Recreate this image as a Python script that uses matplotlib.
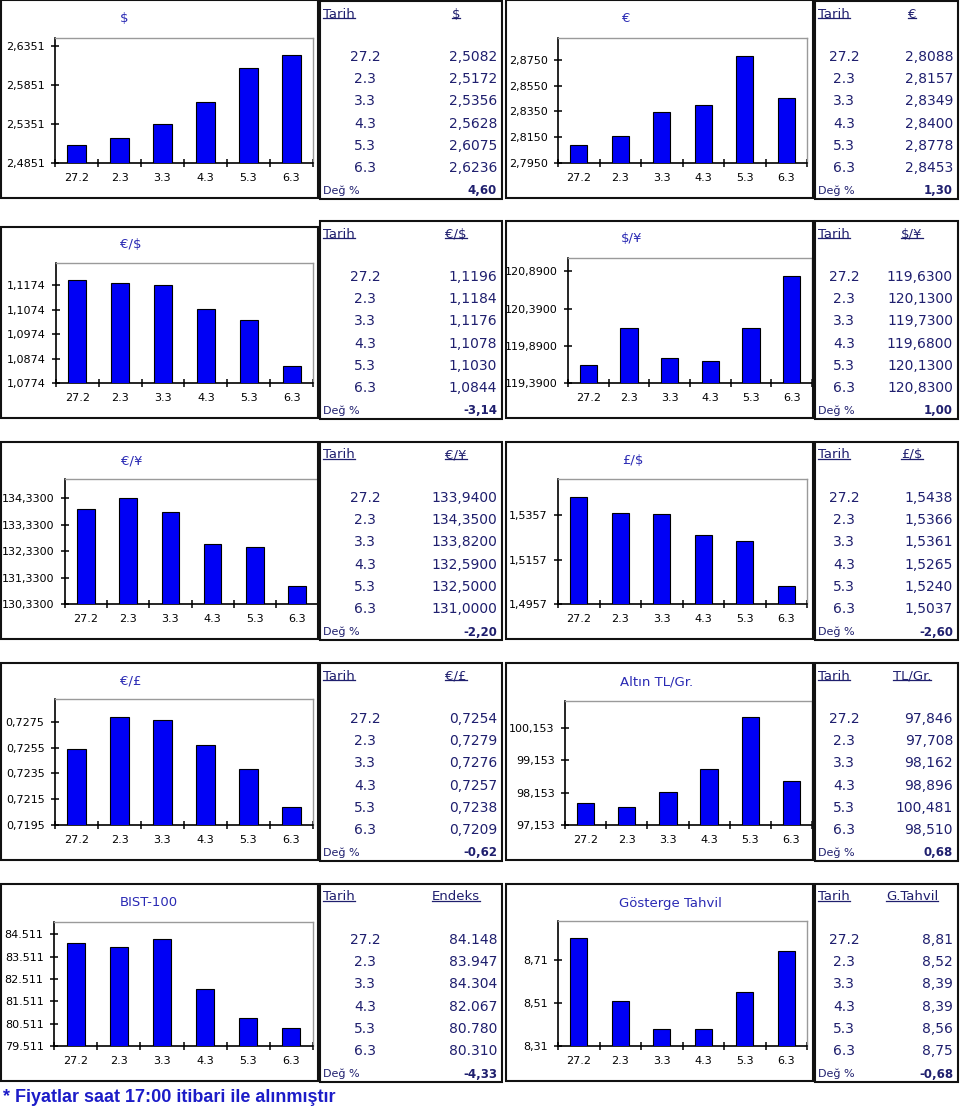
import matplotlib
matplotlib.use("Agg")
import matplotlib.pyplot as plt
from matplotlib.patches import Rectangle
from matplotlib.lines import Line2D

W, H = 960, 1112

# ---------------- data ----------------
dates = ["27.2", "2.3", "3.3", "4.3", "5.3", "6.3"]

usd = [2.5082, 2.5172, 2.5356, 2.5628, 2.6075, 2.6236]
eur = [2.8088, 2.8157, 2.8349, 2.8400, 2.8778, 2.8453]
eurusd = [1.1196, 1.1184, 1.1176, 1.1078, 1.1030, 1.0844]
usdjpy = [119.63, 120.13, 119.73, 119.68, 120.13, 120.83]
eurjpy = [133.94, 134.35, 133.82, 132.59, 132.50, 131.00]
gbpusd = [1.5438, 1.5366, 1.5361, 1.5265, 1.5240, 1.5037]
eurgbp = [0.7254, 0.7279, 0.7276, 0.7257, 0.7238, 0.7209]
gold = [97.846, 97.708, 98.162, 98.896, 100.481, 98.510]
bist = [84148, 83947, 84304, 82067, 80780, 80310]
bond = [8.81, 8.52, 8.39, 8.39, 8.56, 8.75]

usd_ticks = [2.4851, 2.5351, 2.5851, 2.6351]
eur_ticks = [2.7950, 2.8150, 2.8350, 2.8550, 2.8750]
eurusd_ticks = [1.0774, 1.0874, 1.0974, 1.1074, 1.1174]
usdjpy_ticks = [119.39, 119.89, 120.39, 120.89]
eurjpy_ticks = [130.33, 131.33, 132.33, 133.33, 134.33]
gbpusd_ticks = [1.4957, 1.5157, 1.5357]
eurgbp_ticks = [0.7195, 0.7215, 0.7235, 0.7255, 0.7275]
gold_ticks = [97.153, 98.153, 99.153, 100.153]
bist_ticks = [79511, 80511, 81511, 82511, 83511, 84511]
bond_ticks = [8.31, 8.51, 8.71]

y_max = [2.6454, 2.892, 1.1264, 121.07, 135.06, 1.5519, 0.72926, 100.98, 85068, 8.891]

changes = [4.60, 1.30, -3.14, 1.00, -2.20, -2.60, -0.62, 0.68, -4.33, -0.68]

titles = ["$", "€", "€/$", "$/¥", "€/¥", "£/$", "€/£", "Altın TL/Gr.", "BIST-100", "Gösterge Tahvil"]
headers = ["$", "€", "€/$", "$/¥", "€/¥", "£/$", "€/£", "TL/Gr.", "Endeks", "G.Tahvil"]
decimals = [4, 4, 4, 4, 4, 4, 4, 3, -1, 2]   # -1 -> thousands with dot

footer = "* Fiyatlar saat 17:00 itibari ile alınmıştır"

series = [usd, eur, eurusd, usdjpy, eurjpy, gbpusd, eurgbp, gold, bist, bond]
ticks = [usd_ticks, eur_ticks, eurusd_ticks, usdjpy_ticks, eurjpy_ticks,
         gbpusd_ticks, eurgbp_ticks, gold_ticks, bist_ticks, bond_ticks]


def fmt(v, d):
    if d < 0:
        return f"{v:,.0f}".replace(",", ".")
    return f"{v:.{d}f}".replace(".", ",")


# ---------------- layout (pixels) ----------------
row_tops = [0, 220, 441, 662, 883]
plot_x = [(55, 313), (558, 807), (56, 313), (568, 812), (65, 318),
          (558, 807), (55, 313), (565, 812), (54, 313), (558, 807)]
plot_top_off = [38, 38, 43, 38, 38, 38, 37, 39, 39, 38]
box_top_off = [0, 0, 7, 1, 1, 1, 1, 1, 1, 1]
title_xy = [(124, 19), (626, 19), (131, 24), (632, 19), (132, 20),
            (633, 20), (131, 19), (657, 20), (149, 20), (670, 20)]

NAVY = "#1f1f6e"
TBLUE = "#2a2ab4"
BAR = "#0000f5"

fig = plt.figure(figsize=(W / 100, H / 100), dpi=100)
fig.patch.set_facecolor("white")

over = fig.add_axes([0, 0, 1, 1], zorder=10)
over.set_xlim(0, W)
over.set_ylim(H, 0)
over.axis("off")
over.patch.set_alpha(0)

underline_texts = []

for i in range(10):
    row = i // 2
    left = (i % 2 == 0)
    top = row_tops[row]
    # chart box
    bx0, bx1 = (1, 318) if left else (506, 813)
    over.add_patch(Rectangle((bx0, top + box_top_off[i]), bx1 - bx0, 198 - box_top_off[i],
                             fill=False, edgecolor="#111111", linewidth=1.5))
    # table box
    tx0, tx1 = (320, 502) if left else (815, 958)
    over.add_patch(Rectangle((tx0, top + 1), tx1 - tx0, 198,
                             fill=False, edgecolor="#111111", linewidth=1.5))

    # plot area
    px0, px1 = plot_x[i]
    py0, py1 = top + plot_top_off[i], top + 163
    ax = fig.add_axes([px0 / W, 1 - py1 / H, (px1 - px0) / W, (py1 - py0) / H])
    ax.bar(range(6), series[i], width=0.42, color=BAR, edgecolor="black",
           linewidth=0.8, zorder=3)
    ax.set_xlim(-0.5, 5.5)
    ax.set_ylim(ticks[i][0], y_max[i])
    ax.set_yticks(ticks[i])
    ax.set_yticklabels([fmt(t, decimals[i] if decimals[i] >= 0 else -1) for t in ticks[i]])
    ax.set_xticks([k - 0.5 for k in range(7)])
    ax.set_xticklabels([])
    ax.set_xticks(range(6), minor=True)
    ax.set_xticklabels(dates, minor=True)
    ax.tick_params(axis="both", which="major", direction="inout", length=6, width=1.1,
                   labelsize=8, colors="black")
    ax.tick_params(axis="y", which="major", pad=4.5)
    ax.tick_params(axis="x", which="minor", length=0, pad=7, labelsize=8)
    ax.tick_params(axis="y", which="minor", left=False)
    for s in ("left", "bottom"):
        ax.spines[s].set_color("black")
        ax.spines[s].set_linewidth(1.2)
    for s in ("top", "right"):
        ax.spines[s].set_color("#9a9a9a")
        ax.spines[s].set_linewidth(1.0)

    # title
    tx, ty = title_xy[i]
    over.text(tx, top + ty, titles[i], ha="center", va="center", fontsize=9.5, color=TBLUE)

    # table
    date_cx = tx0 + 45 if left else tx0 + 29
    val_rx = tx1 - 5
    hdr_cx = tx1 - 46
    t1 = over.text(tx0 + 3, top + 14, "Tarih", ha="left", va="center", fontsize=9.5, color=NAVY)
    t2 = over.text(hdr_cx, top + 14, headers[i], ha="center", va="center", fontsize=9.5, color=NAVY)
    underline_texts += [t1, t2]
    for k in range(6):
        y = top + 57 + 22.2 * k
        over.text(date_cx, y, dates[k], ha="center", va="center", fontsize=10, color=NAVY)
        over.text(val_rx, y, fmt(series[i][k], decimals[i]), ha="right", va="center",
                  fontsize=10, color=NAVY)
    over.text(tx0 + 3, top + 191, "Değ %", ha="left", va="center", fontsize=8, color=NAVY)
    over.text(val_rx, top + 191, fmt(changes[i], 2), ha="right", va="center",
              fontsize=8.5, color=NAVY, fontweight="bold")

over.text(3, 1097, footer, ha="left", va="center", fontsize=13, fontweight="bold",
          color="#1c1cc8", family=["Liberation Sans", "DejaVu Sans"])

# underline table headers
r = fig.canvas.get_renderer()
for t in underline_texts:
    bb = t.get_window_extent(renderer=r)
    yl = H - (bb.y0 + 2.5)
    over.add_line(Line2D([bb.x0, bb.x1], [yl, yl], color=NAVY, linewidth=0.9))

fig.savefig("out.png", dpi=100, facecolor="white")
